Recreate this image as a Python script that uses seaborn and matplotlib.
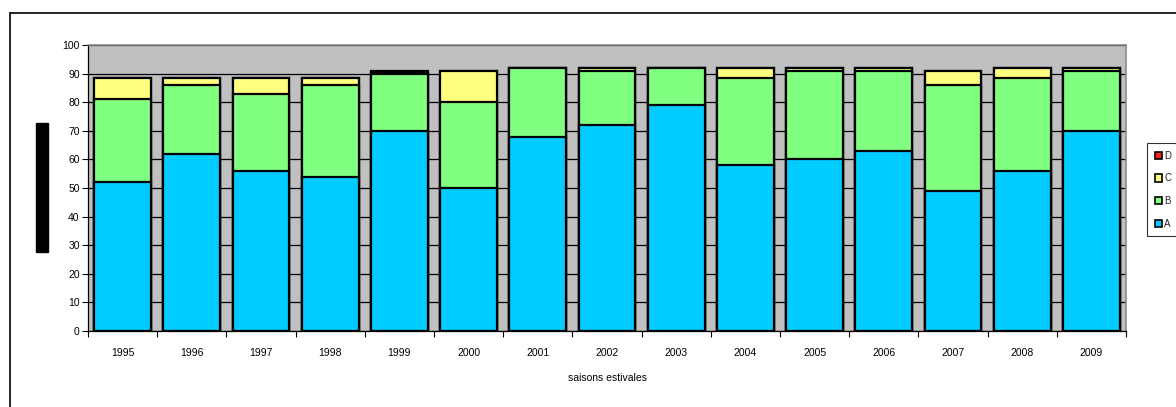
import matplotlib
matplotlib.use("Agg")
import matplotlib.pyplot as plt
from matplotlib.patches import Rectangle, Patch
from matplotlib.lines import Line2D
import numpy as np
import pandas as pd
import seaborn as sns

# données
saisons = ["1995", "1996", "1997", "1998", "1999", "2000", "2001", "2002",
           "2003", "2004", "2005", "2006", "2007", "2008", "2009"]
val_A = [52, 62, 56, 54, 70, 50, 68, 72, 79, 58, 60, 63, 49, 56, 70]
val_B = [29, 24, 27, 32, 20, 30, 24, 19, 13, 30.5, 31, 28, 37, 32.5, 21]
val_C = [7.5, 2.5, 5.5, 2.5, 0.3, 11, 0, 1, 0, 3.5, 1, 1, 5, 3.5, 1]
val_D = [0, 0, 0, 0, 0.5, 0, 0, 0, 0, 0, 0, 0, 0, 0, 0]

couleurs = {"A": "#00CCFF", "B": "#80FF80", "C": "#FFFF80", "D": "#FF2020"}

df = pd.DataFrame({"saison": saisons, "A": val_A, "B": val_B,
                   "C": val_C, "D": val_D})
df["cum_A"] = df["A"]
df["cum_B"] = df["cum_A"] + df["B"]
df["cum_C"] = df["cum_B"] + df["C"]
df["cum_D"] = df["cum_C"] + df["D"]

sns.set_theme(style="white")
plt.rcParams["font.family"] = ["Liberation Sans", "DejaVu Sans"]

fig = plt.figure(figsize=(11.76, 4.07), dpi=100)
W, H = 1176, 407
ax = fig.add_axes([88 / W, 1 - 331 / H, (1126 - 88) / W, (331 - 45) / H])
ax.set_facecolor("#C0C0C0")

# barres empilées : on dessine les cumuls du plus haut au plus bas
for serie in ["D", "C", "B", "A"]:
    sns.barplot(data=df, x="saison", y=f"cum_{serie}", color=couleurs[serie],
                saturation=1, width=0.82, edgecolor="black", linewidth=1.6,
                ax=ax, zorder=3)

ax.set_ylim(0, 100)
ax.set_xlim(-0.5, len(saisons) - 0.5)
ax.set_yticks(np.arange(0, 101, 10))
ax.yaxis.grid(True, color="black", linewidth=0.9, zorder=0)
ax.set_axisbelow(True)

ax.tick_params(axis="y", labelsize=7.5, length=4, width=0.8, color="black",
               left=True, pad=2, colors="black")
ax.tick_params(axis="x", which="major", labelsize=7.5, length=0, pad=12,
               colors="black")
ax.set_xticks(np.arange(-0.5, len(saisons), 1), minor=True)
ax.tick_params(axis="x", which="minor", length=4, width=0.8, bottom=True,
               color="black")

ax.set_xlabel("saisons estivales", fontsize=7.5, labelpad=11, color="black")
ax.set_ylabel("")

for side in ["top", "right"]:
    ax.spines[side].set_color("#8C8C8C")
    ax.spines[side].set_linewidth(1.2)
for side in ["left", "bottom"]:
    ax.spines[side].set_color("black")
    ax.spines[side].set_linewidth(0.9)

# cadre extérieur et titre d'axe masqué
fig.add_artist(Line2D([10 / W, 10 / W], [0, 1 - 13 / H], color="black", lw=1.2))
fig.add_artist(Line2D([10 / W, 1], [1 - 13 / H, 1 - 13 / H], color="black", lw=1.2))
fig.add_artist(Rectangle((36 / W, 1 - 252 / H), 12 / W, 129 / H,
                         transform=fig.transFigure, color="black"))

handles = [Patch(facecolor=couleurs[s], edgecolor="black", linewidth=1.2, label=s)
           for s in ["D", "C", "B", "A"]]
leg = fig.legend(handles=handles, loc="upper left",
                 bbox_to_anchor=(1147 / W, 1 - 143 / H), fontsize=7,
                 handlelength=0.75, handleheight=0.75, handletextpad=0.2,
                 labelspacing=1.3, borderpad=0.8, borderaxespad=0,
                 frameon=True, fancybox=False)
leg.get_frame().set_edgecolor("black")
leg.get_frame().set_linewidth(0.8)

fig.savefig("out.png", dpi=100, facecolor="white")
